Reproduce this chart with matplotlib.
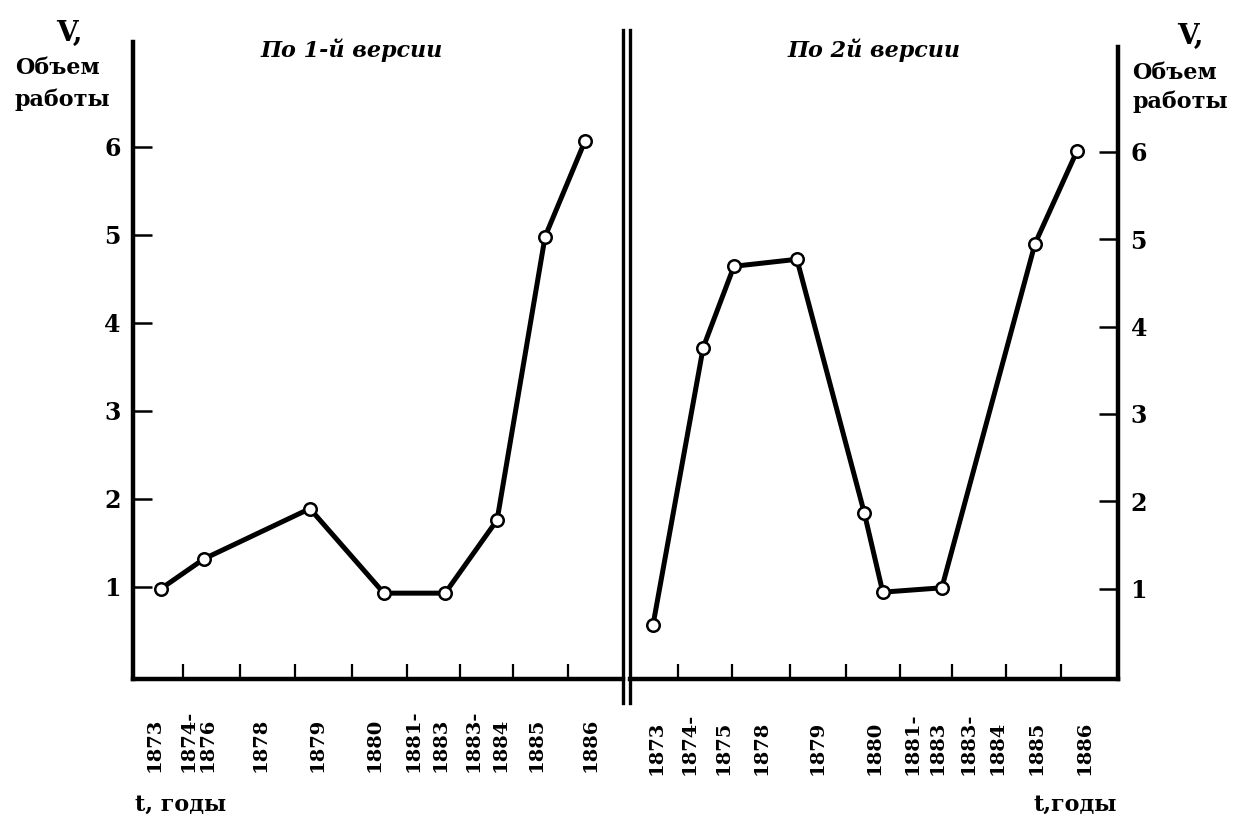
import matplotlib
matplotlib.use('Agg')
import matplotlib.pyplot as plt

# Panel 1: "По 1-й версии"  (x in arbitrary position units 0..100)
left_x = [5.7, 14.5, 36.1, 51.2, 63.7, 74.3, 84.1, 92.2]
left_v = [0.98, 1.32, 1.89, 0.93, 0.93, 1.76, 4.98, 6.06]
left_ticks = [10.2, 21.8, 33.1, 44.7, 55.9, 66.7, 77.6, 88.8]
left_lab_x = [4.5, 11.4, 15.2, 26.0, 37.6, 49.2, 57.3, 62.7, 69.6, 75.1, 82.4, 93.3]
left_labels = ['1873', '1874-', '1876', '1878', '1879', '1880',
               '1881-', '1883', '1883-', '1884', '1885', '1886']

# Panel 2: "По 2й версии"
right_x = [4.7, 15.0, 21.3, 34.2, 48.0, 51.8, 63.9, 83.0, 91.6]
right_v = [0.58, 3.76, 4.69, 4.77, 1.87, 0.96, 1.01, 4.95, 6.01]
right_ticks = [9.8, 20.9, 32.8, 44.3, 55.3, 66.0, 77.0, 88.3]
right_lab_x = [5.5, 12.3, 19.1, 27.0, 38.5, 50.2, 57.8, 63.1, 69.3, 75.4, 83.4, 93.2]
right_labels = ['1873', '1874-', '1875', '1878', '1879', '1880',
                '1881-', '1883', '1883-', '1884', '1885', '1886']

yticks = [1, 2, 3, 4, 5, 6]

SERIF = 'DejaVu Serif'
plt.rcParams.update({'font.family': SERIF})

fig = plt.figure(figsize=(12.46, 8.25), dpi=100)
fig.patch.set_facecolor('white')

ax_l = fig.add_axes([133 / 1246, 146 / 825, 490 / 1246, 637 / 825])
ax_r = fig.add_axes([630 / 1246, 146 / 825, 488 / 1246, 632 / 825])


def setup(ax, side, ticks, ylim):
    ax.set_xlim(0, 100)
    ax.set_ylim(ylim)
    for s in ['top', 'left', 'right']:
        ax.spines[s].set_visible(False)
    ax.spines[side].set_visible(True)
    ax.spines[side].set_linewidth(3.2)
    ax.spines['bottom'].set_linewidth(3.2)
    ax.set_xticks(ticks)
    ax.set_xticklabels([])
    ax.tick_params(axis='x', direction='in', length=11, width=1.6)
    ax.set_yticks(yticks)
    ax.set_yticklabels([str(v) for v in yticks], fontsize=17, fontweight='bold')
    if side == 'right':
        ax.yaxis.tick_right()
    ax.tick_params(axis='y', direction='in', length=14, width=1.8, pad=9)
    ax.patch.set_alpha(0)


def plot_series(ax, x, y):
    ax.plot(x, y, color='black', lw=3.6, marker='o', ms=9, mfc='white',
            mec='black', mew=1.8, clip_on=False, zorder=3)


def year_labels(ax, xs, labels, ybot):
    trans = ax.get_xaxis_transform()
    for xv, lab in zip(xs, labels):
        ax.text(xv, ybot, lab, transform=trans, rotation=90, ha='center',
                va='bottom', fontsize=14, fontweight='bold')


setup(ax_l, 'left', left_ticks, (-0.045, 7.19))
setup(ax_r, 'right', right_ticks, (-0.034, 7.2))

plot_series(ax_l, left_x, left_v)
plot_series(ax_r, right_x, right_v)

year_labels(ax_l, left_lab_x, left_labels, -0.146)
year_labels(ax_r, right_lab_x, right_labels, -0.152)

# double separating line
ax_l.axvline(100, ymin=-0.038, ymax=1.019, color='black', lw=2.4, clip_on=False)
ax_r.axvline(0, ymin=-0.038, ymax=1.027, color='black', lw=2.4, clip_on=False)

# panel titles
ax_l.text(0.447, 0.987, 'По 1-й версии', transform=ax_l.transAxes, ha='center',
          va='center', fontsize=16, fontweight='bold', fontstyle='italic')
ax_r.text(0.50, 0.995, 'По 2й версии', transform=ax_r.transAxes, ha='center',
          va='center', fontsize=16, fontweight='bold', fontstyle='italic')

# axis captions
ax_l.text(-0.129, 1.014, 'V,', transform=ax_l.transAxes, ha='center',
          va='center', fontsize=20, fontweight='bold')
ax_l.text(-0.241, 0.959, 'Объем', transform=ax_l.transAxes, ha='left',
          va='center', fontsize=16, fontweight='bold')
ax_l.text(-0.241, 0.909, 'работы', transform=ax_l.transAxes, ha='left',
          va='center', fontsize=16, fontweight='bold')

ax_r.text(1.148, 1.016, 'V,', transform=ax_r.transAxes, ha='center',
          va='center', fontsize=20, fontweight='bold')
ax_r.text(1.029, 0.959, 'Объем', transform=ax_r.transAxes, ha='left',
          va='center', fontsize=16, fontweight='bold')
ax_r.text(1.029, 0.913, 'работы', transform=ax_r.transAxes, ha='left',
          va='center', fontsize=16, fontweight='bold')

ax_l.text(0.004, -0.198, 't, годы', transform=ax_l.transAxes, ha='left',
          va='center', fontsize=16, fontweight='bold')
ax_r.text(0.998, -0.199, 't,годы', transform=ax_r.transAxes, ha='right',
          va='center', fontsize=16, fontweight='bold')

fig.savefig('out.png', dpi=100, facecolor='white')
